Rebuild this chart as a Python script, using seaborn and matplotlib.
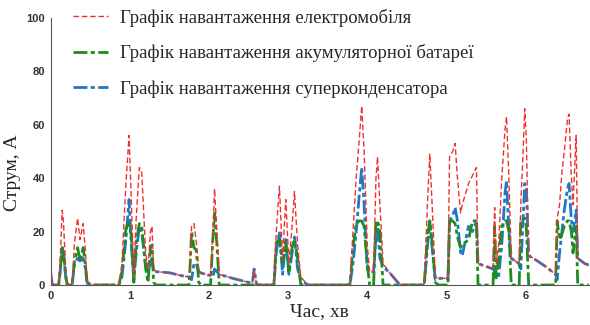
import matplotlib
matplotlib.use("Agg")
import matplotlib.pyplot as plt
import seaborn as sns
import pandas as pd

# time, minutes
t = [0.00, 0.02, 0.10, 0.12, 0.145, 0.16, 0.19, 0.21, 0.27, 0.30, 0.34, 0.37, 0.41, 0.44, 0.46, 0.52,
     0.86, 0.90, 0.95, 0.99, 1.02, 1.05, 1.08, 1.12, 1.15, 1.20, 1.23, 1.26, 1.28, 1.30, 1.33, 1.50,
     1.65, 1.75, 1.78, 1.81, 1.84, 1.87, 1.90, 2.02, 2.05, 2.07, 2.10, 2.13, 2.30, 2.50, 2.55, 2.57,
     2.60, 2.62, 2.82, 2.85, 2.89, 2.93, 2.97, 3.01, 3.05, 3.08, 3.12, 3.16, 3.25, 3.78, 3.82, 3.86,
     3.90, 3.93, 3.96, 4.00, 4.03, 4.08, 4.11, 4.13, 4.16, 4.20, 4.30, 4.40, 4.45, 4.72, 4.76, 4.79,
     4.82, 4.86, 4.90, 5.02, 5.04, 5.08, 5.11, 5.14, 5.18, 5.20, 5.28, 5.33, 5.38, 5.40, 5.50, 5.59,
     5.61, 5.63, 5.66, 5.70, 5.74, 5.76, 5.79, 5.82, 5.92, 5.94, 5.97, 5.99, 6.01, 6.04, 6.10, 6.25,
     6.38, 6.40, 6.43, 6.46, 6.49, 6.53, 6.55, 6.58, 6.60, 6.64, 6.66, 6.75, 6.80]

# vehicle load current, A
ev = [4.5, 0, 0, 10, 28, 24, 6, 0, 0, 16, 25, 17, 23, 12, 1, 0,
      0, 8, 38, 56, 30, 3, 25, 44, 42, 12, 6, 20, 22, 6, 5, 4.6,
      3.5, 3, 22, 23, 16, 6, 4.5, 3.5, 20, 36, 20, 4, 2.5, 1, 1, 6,
      0.5, 0, 0, 20, 37, 10, 32, 8, 22, 35, 15, 3, 0, 0, 20, 40,
      55, 67, 50, 15, 5, 5, 40, 48, 30, 8, 4, 0.5, 0, 0, 30, 49,
      30, 3, 2.5, 2.5, 48, 50, 53, 40, 27, 30, 38, 41, 44, 8, 7, 6,
      29, 8, 15, 40, 58, 63, 40, 10, 8, 30, 50, 66, 55, 11, 10, 7,
      4, 25, 30, 42, 50, 62, 64, 40, 30, 56, 10, 8, 7.5]

# battery current, A
battery = [0, 0, 0, 6, 14, 13, 3, 0, 0, 9, 14, 9, 14, 7, 0, 0,
           0, 5, 21, 24, 18, 1, 16, 23, 22, 6, 1, 14, 15, 1, 0, 0,
           0, 0, 20, 14, 13, 1, 0, 0, 18, 27, 15, 0, 0, 0, 0, 0,
           0, 0, 0, 16, 17, 8, 16, 5, 14, 17, 10, 0, 0, 0, 14, 23,
           24, 24, 22, 8, 0, 0, 24, 24, 20, 0, 0, 0, 0, 0, 18, 24,
           16, 1, 0, 0, 24, 24, 23, 18, 14, 15, 17, 24, 24, 0, 0, 0,
           22, 2, 10, 22, 24, 24, 20, 0, 0, 24, 25, 25, 22, 0, 0, 0,
           0, 24, 17, 19, 22, 24, 24, 20, 12, 22, 0, 0, 0]

# supercapacitor current, A
supercap = [4.5, 0, 0, 5, 14, 12, 3, 0, 0, 8, 10, 9, 10, 6, 1, 0,
            0, 3, 17, 32, 14, 2, 12, 22, 20, 7, 5, 8, 10, 5, 5, 4.6,
            3.5, 3, 2, 8, 8, 5, 4.5, 3.5, 3, 6, 5, 4, 2.5, 1, 1, 6,
            0.5, 0, 0, 12, 20, 4, 17, 4, 12, 18, 6, 2, 0, 0, 8, 20,
            34, 44, 30, 6, 5, 5, 18, 22, 10, 7, 4, 0.5, 0, 0, 14, 24,
            14, 2, 2.5, 2.5, 24, 26, 29, 24, 12, 11, 22, 20, 24, 8, 7, 6,
            5, 4, 3, 15, 34, 39, 20, 10, 8, 6, 25, 38, 36, 11, 10, 7,
            4, 2, 12, 20, 28, 36, 38, 24, 20, 28, 10, 8, 7.5]

labels = ["Графік навантаження електромобіля",
          "Графік навантаження акумуляторної батареї",
          "Графік навантаження суперконденсатора"]

df = pd.DataFrame({"t": t, "ev": ev, "battery": battery, "supercap": supercap})

sns.set_theme(style="white")
plt.rcParams["font.family"] = ["Liberation Serif", "DejaVu Serif"]

fig = plt.figure(figsize=(5.9, 3.25), dpi=100)
ax = fig.add_axes([0.086, 0.123, 0.912, 0.822])

sns.lineplot(data=df, x="t", y="supercap", ax=ax, color="#1f78c8", lw=2.0,
             estimator=None, sort=False, label=labels[2], zorder=2)
sns.lineplot(data=df, x="t", y="battery", ax=ax, color="#1e8c1e", lw=2.0,
             estimator=None, sort=False, label=labels[1], zorder=3)
sns.lineplot(data=df, x="t", y="ev", ax=ax, color="#f03030", lw=1.0,
             estimator=None, sort=False, label=labels[0], zorder=4)

lines = ax.get_lines()
lines[0].set_dashes([5, 1.2, 1.5, 1.2])
lines[1].set_dashes([5, 1.2, 1.5, 1.2])
lines[2].set_dashes([4, 2])

ax.set_xlim(0, 6.8)
ax.set_ylim(0, 100)
ax.set_xticks([0, 1, 2, 3, 4, 5, 6])
ax.set_yticks([0, 20, 40, 60, 80, 100])
for lab in ax.get_xticklabels() + ax.get_yticklabels():
    lab.set_family(["Liberation Sans", "DejaVu Sans"])
    lab.set_fontweight("bold")
    lab.set_fontsize(8)
    lab.set_color("#333333")
ax.tick_params(direction="in", length=3, color="#999999", pad=4)

for side in ["top", "right"]:
    ax.spines[side].set_visible(False)
for side in ["left", "bottom"]:
    ax.spines[side].set_color("#555555")
    ax.spines[side].set_linewidth(0.8)

ax.set_xlabel("Час, хв", fontsize=14, labelpad=2)
ax.set_ylabel("Струм, А", fontsize=14)
ax.yaxis.set_label_coords(-0.055, 0.42)

handles, _ = ax.get_legend_handles_labels()
order = [2, 1, 0]
ax.legend([handles[i] for i in order], labels,
          loc="upper left", bbox_to_anchor=(0.041, 1.034), frameon=False,
          fontsize=13.5, handlelength=1.87, handletextpad=0.64, labelspacing=0.94,
          borderpad=0, borderaxespad=0)

fig.savefig("out.png", dpi=100)
